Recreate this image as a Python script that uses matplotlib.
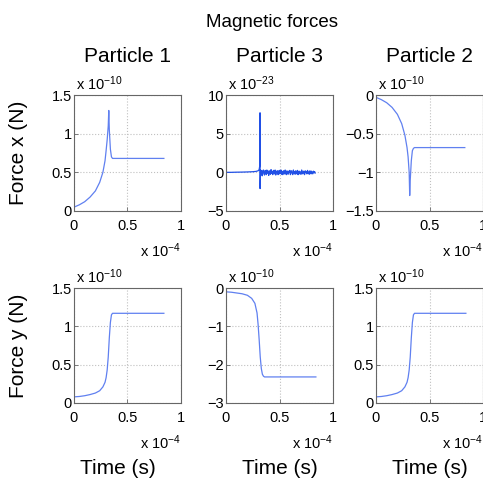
# Magnetic forces on three particles, x and y components against time
import matplotlib
matplotlib.use('Agg')
from matplotlib import pyplot as plt
from matplotlib.ticker import FuncFormatter

plt.rcParams['font.family'] = ['Liberation Sans', 'DejaVu Sans']
plt.rcParams['mathtext.fontset'] = 'custom'
plt.rcParams['mathtext.rm'] = 'Liberation Sans'
plt.rcParams['mathtext.it'] = 'Liberation Sans:italic'

# time in units of 1e-4 s
t_p1 = [0, 0.05, 0.10, 0.15, 0.20, 0.24, 0.27, 0.29, 0.30, 0.31, 0.32, 0.325, 0.33, 0.34, 0.35, 0.36, 0.84]
# Force x, particle 1 (units of 1e-10 N)
fx_p1 = [0.05, 0.08, 0.12, 0.18, 0.26, 0.37, 0.50, 0.65, 0.78, 0.92, 1.10, 1.30, 1.05, 0.80, 0.70, 0.68, 0.68]

t_p2 = [0, 0.05, 0.10, 0.15, 0.20, 0.24, 0.27, 0.29, 0.30, 0.31, 0.315, 0.32, 0.33, 0.34, 0.35, 0.36, 0.83]
# Force x, particle 2 (units of 1e-10 N)
fx_p2 = [-0.03, -0.06, -0.10, -0.16, -0.25, -0.37, -0.52, -0.68, -0.80, -1.00, -1.30, -1.10, -0.85, -0.72, -0.69, -0.68, -0.68]

# Force x, particle 3 (units of 1e-23 N): spike then numerical noise
t_p3 = [0, 0.05, 0.10, 0.15, 0.20, 0.25, 0.28, 0.30, 0.31, 0.316, 0.318, 0.3185,
        0.322, 0.327, 0.333, 0.338, 0.344, 0.349, 0.355, 0.360, 0.366, 0.371,
        0.377, 0.382, 0.388, 0.393, 0.399, 0.404, 0.410, 0.415, 0.421, 0.426,
        0.432, 0.437, 0.443, 0.448, 0.454, 0.459, 0.465, 0.470, 0.476, 0.481,
        0.487, 0.492, 0.498, 0.503, 0.509, 0.514, 0.520, 0.525, 0.531, 0.536,
        0.542, 0.547, 0.553, 0.558, 0.564, 0.569, 0.575, 0.580, 0.586, 0.591,
        0.597, 0.602, 0.608, 0.613, 0.619, 0.624, 0.630, 0.635, 0.641, 0.646,
        0.652, 0.657, 0.663, 0.668, 0.674, 0.679, 0.685, 0.690, 0.696, 0.701,
        0.707, 0.712, 0.718, 0.723, 0.729, 0.734, 0.740, 0.745, 0.751, 0.756,
        0.762, 0.767, 0.773, 0.778, 0.784, 0.789, 0.795, 0.800, 0.806, 0.811,
        0.817, 0.822, 0.828, 0.833]
fx_p3 = [0, 0, 0.02, 0.03, 0.05, 0.08, 0.12, 0.20, 0.35, 0.9, 7.7, -2.1,
         0.35, -0.3, 0.2, -0.45, 0.1, 0.3, -0.2, -0.35, 0.25, 0.05,
         -0.3, 0.3, -0.1, 0.15, -0.4, 0.2, 0.0, -0.25, 0.35, -0.15,
         0.1, -0.3, 0.25, 0.05, -0.2, 0.3, -0.35, 0.15, -0.05, 0.2,
         -0.3, 0.1, 0.25, -0.2, -0.05, 0.3, -0.25, 0.1, -0.3, 0.2,
         0.05, -0.2, 0.3, -0.1, -0.3, 0.2, 0.1, -0.25, 0.15, -0.05,
         0.25, -0.3, 0.05, 0.2, -0.15, -0.3, 0.3, -0.1, 0.1, -0.25,
         0.2, 0.0, -0.2, 0.25, -0.3, 0.1, 0.15, -0.2, 0.05, -0.25,
         0.3, -0.1, -0.2, 0.15, 0.05, -0.3, 0.2, -0.05, 0.1, -0.2,
         0.25, -0.15, 0.05, -0.25, 0.2, 0.1, -0.2, 0.15, -0.1, -0.2,
         0.15, -0.05, 0.1, -0.1]

t_y = [0, 0.05, 0.10, 0.15, 0.20, 0.24, 0.27, 0.29, 0.30, 0.31, 0.32, 0.33, 0.34, 0.35, 0.36, 0.84]
# Force y (units of 1e-10 N)
fy_p1 = [0.08, 0.085, 0.095, 0.11, 0.13, 0.16, 0.21, 0.27, 0.33, 0.43, 0.60, 0.85, 1.05, 1.15, 1.17, 1.17]
fy_p3 = [-0.10, -0.11, -0.13, -0.15, -0.19, -0.27, -0.40, -0.65, -0.95, -1.35, -1.80, -2.10, -2.25, -2.30, -2.32, -2.32]
fy_p2 = [0.08, 0.085, 0.095, 0.11, 0.13, 0.16, 0.21, 0.27, 0.33, 0.43, 0.60, 0.85, 1.05, 1.15, 1.17, 1.17]

titles = ['Particle 1', 'Particle 3', 'Particle 2']
exponents_x = [-10, -23, -10]
exponents_y = [-10, -10, -10]

fig = plt.figure(figsize=(4.83, 4.87), dpi=100)
W, H = 483.0, 487.0
col_left = [74, 226, 376]
ax_w = 107

def fmt(v, pos):
    return ('%g' % v).replace('-', '\u2212')

def style(ax, ylim, yticks):
    ax.set_xlim(0, 1)
    ax.set_xticks([0, 0.5, 1])
    ax.set_ylim(*ylim)
    ax.set_yticks(yticks)
    ax.xaxis.set_major_formatter(FuncFormatter(fmt))
    ax.yaxis.set_major_formatter(FuncFormatter(fmt))
    ax.grid(True, ls=':', color='#c0c0c0', lw=0.8)
    for s in ax.spines.values():
        s.set_color('#666666')
        s.set_linewidth(0.8)
    ax.tick_params(direction='in', length=3, width=0.6, color='#666666', labelsize=10.5)
    ax.tick_params(axis='x', pad=6)
    ax.tick_params(axis='y', pad=1.5)

rows = [
    (95, 211, [(t_p1, fx_p1, (0, 1.5), [0, 0.5, 1, 1.5]),
               (t_p3, fx_p3, (-5, 10), [-5, 0, 5, 10]),
               (t_p2, fx_p2, (-1.5, 0), [-1.5, -1, -0.5, 0])], exponents_x),
    (288, 403, [(t_y, fy_p1, (0, 1.5), [0, 0.5, 1, 1.5]),
                (t_y, fy_p3, (-3, 0), [-3, -2, -1, 0]),
                (t_y, fy_p2, (0, 1.5), [0, 0.5, 1, 1.5])], exponents_y),
]

for r, (top, bottom, panels, exps) in enumerate(rows):
    h = bottom - top
    for c, (t, f, ylim, yticks) in enumerate(panels):
        ax = fig.add_axes([col_left[c] / W, 1 - bottom / H, ax_w / W, h / H])
        if r == 0 and c == 1:
            ax.plot(t, f, color='#2150e6', lw=0.9)
        else:
            ax.plot(t, f, color='#6080f0', lw=0.9)
        style(ax, ylim, yticks)
        # MATLAB style exponent labels
        ax.text(0.02, 1 + 5.0 / h, r'x 10$^{%d}$' % exps[c], transform=ax.transAxes,
                ha='left', va='baseline', fontsize=10.5)
        ax.text(1.0, -(46.0 / h), r'x 10$^{-4}$', transform=ax.transAxes,
                ha='right', va='baseline', fontsize=10.5)
        if r == 0:
            ax.set_title(titles[c], fontsize=15, y=1 + 33.0 / h, pad=0, va='baseline')
            if c == 0:
                ax.set_ylabel('Force x (N)', fontsize=15, va='center')
        else:
            ax.set_xlabel('Time (s)', fontsize=15, va='baseline')
            ax.xaxis.set_label_coords(0.41 if c == 0 else 0.5, -(71.0 / h))
            if c == 0:
                ax.set_ylabel('Force y (N)', fontsize=15, va='center')
        if c == 0:
            ax.yaxis.set_label_coords(-56.0 / ax_w, 0.5)

fig.text(272 / W, 1 - 27 / H, 'Magnetic forces', ha='center', va='baseline', fontsize=13.5)

fig.savefig('out.png', dpi=100)
